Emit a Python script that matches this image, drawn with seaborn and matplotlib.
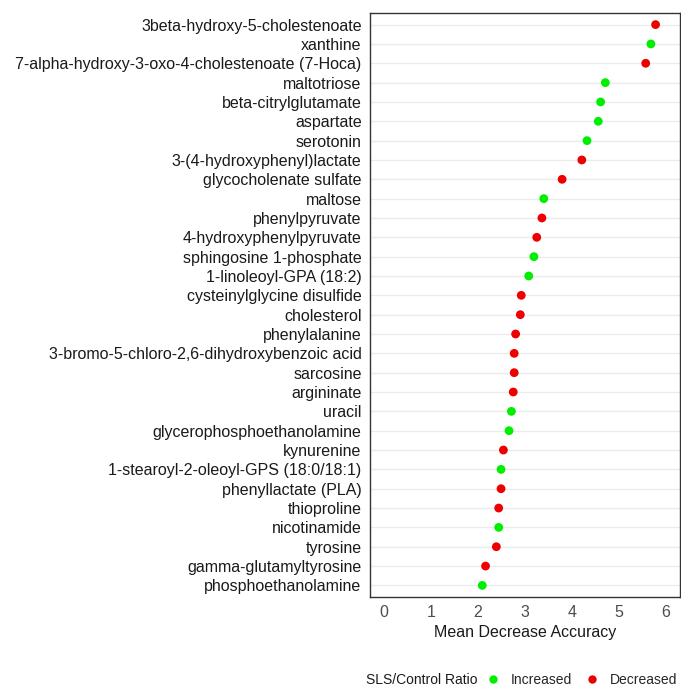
import matplotlib
matplotlib.use("Agg")
import matplotlib.pyplot as plt
from matplotlib.lines import Line2D
import seaborn as sns
import pandas as pd

# metabolites, top to bottom
metabolites = [
    "3beta-hydroxy-5-cholestenoate", "xanthine",
    "7-alpha-hydroxy-3-oxo-4-cholestenoate (7-Hoca)", "maltotriose",
    "beta-citrylglutamate", "aspartate", "serotonin",
    "3-(4-hydroxyphenyl)lactate", "glycocholenate sulfate", "maltose",
    "phenylpyruvate", "4-hydroxyphenylpyruvate", "sphingosine 1-phosphate",
    "1-linoleoyl-GPA (18:2)", "cysteinylglycine disulfide", "cholesterol",
    "phenylalanine", "3-bromo-5-chloro-2,6-dihydroxybenzoic acid",
    "sarcosine", "argininate", "uracil", "glycerophosphoethanolamine",
    "kynurenine", "1-stearoyl-2-oleoyl-GPS (18:0/18:1)",
    "phenyllactate (PLA)", "thioproline", "nicotinamide", "tyrosine",
    "gamma-glutamyltyrosine", "phosphoethanolamine",
]
mda = [5.78, 5.68, 5.57, 4.71, 4.61, 4.56, 4.32, 4.21, 3.79, 3.40,
       3.36, 3.25, 3.19, 3.08, 2.92, 2.90, 2.80, 2.77, 2.77, 2.75,
       2.71, 2.66, 2.54, 2.49, 2.49, 2.44, 2.44, 2.39, 2.16, 2.09]
ratio = ["Decreased", "Increased", "Decreased", "Increased", "Increased",
         "Increased", "Increased", "Decreased", "Decreased", "Increased",
         "Decreased", "Decreased", "Increased", "Increased", "Decreased",
         "Decreased", "Decreased", "Decreased", "Decreased", "Decreased",
         "Increased", "Increased", "Decreased", "Increased", "Decreased",
         "Decreased", "Increased", "Decreased", "Decreased", "Increased"]

colors = {"Increased": "#00ee00", "Decreased": "#ee0000"}

df = pd.DataFrame({"Metabolite": metabolites, "MDA": mda, "Ratio": ratio})

sns.set_style("white")
plt.rcParams["font.family"] = ["Liberation Sans", "DejaVu Sans"]

fig = plt.figure(figsize=(6.81, 6.86), dpi=100)
ax = fig.add_axes([370 / 681, 1 - 597 / 686, 310 / 681, 584 / 686])

for y in range(len(metabolites)):
    ax.axhline(y, color="#ebebeb", lw=1.0, zorder=0)

sns.scatterplot(data=df, x="MDA", y="Metabolite", hue="Ratio",
                palette=colors, s=40, edgecolor="none", legend=False,
                ax=ax, zorder=3)

ax.set_xlim(-0.3, 6.3)
ax.set_ylim(len(metabolites) - 0.4, -0.6)
ax.set_xticks(range(0, 7))
ax.set_xlabel("Mean Decrease Accuracy", fontsize=11.5, color="#1a1a1a", labelpad=3)
ax.set_ylabel("")
ax.tick_params(axis="both", which="both", length=4, width=0.8,
               color="#333333", labelsize=11.5, labelcolor="#1a1a1a", pad=2)
ax.tick_params(axis="x", labelsize=11.5, labelcolor="#4d4d4d")
for sp in ax.spines.values():
    sp.set_color("#333333")
    sp.set_linewidth(1.0)

# legend along the bottom
fig.text(366 / 681, 1 - 680 / 686, "SLS/Control Ratio", fontsize=10,
         va="center", ha="left", color="#1a1a1a")
handles = [Line2D([], [], marker="o", ls="", color=colors[k], markersize=6,
                  markeredgewidth=0) for k in ["Increased", "Decreased"]]
fig.legend(handles, ["Increased", "Decreased"], loc="center left",
           bbox_to_anchor=(485 / 681, 1 - 680 / 686), ncol=2, frameon=False,
           fontsize=10, handlelength=1.2, handletextpad=0.65, columnspacing=0.85,
           borderaxespad=0, borderpad=0)

fig.savefig("out.png", dpi=100)
